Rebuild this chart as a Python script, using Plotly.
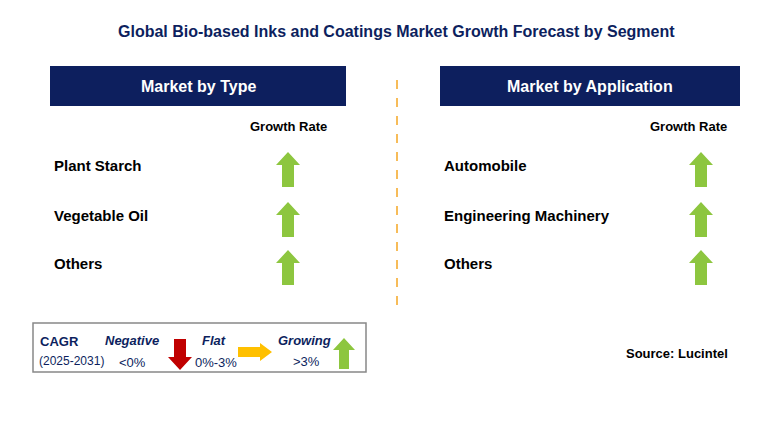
import plotly.graph_objects as go

title = "Global Bio-based Inks and Coatings Market Growth Forecast by Segment"
type_segments = ["Plant Starch", "Vegetable Oil", "Others"]
app_segments = ["Automobile", "Engineering Machinery", "Others"]
type_growth = ["up", "up", "up"]
app_growth = ["up", "up", "up"]
row_y = [165, 215, 263]

NAVY = "#0d1f5e"
GREEN = "#8dc63f"
FONT = "Arial"

fig = go.Figure()
shapes = []
ann = []


def text(x, y, s, size=14, color="black", bold=True, anchor="left", italic=False):
    if bold:
        s = "<b>" + s + "</b>"
    if italic:
        s = "<i>" + s + "</i>"
    ann.append(dict(x=x, y=y, text=s, showarrow=False, xanchor=anchor, yanchor="middle",
                    font=dict(family=FONT, size=size, color=color)))


def arrow_up(cx, top, bottom, color, hw=12, sw=6, hh=13):
    p = (f"M{cx},{top} L{cx+hw},{top+hh} L{cx+sw},{top+hh} L{cx+sw},{bottom} "
         f"L{cx-sw},{bottom} L{cx-sw},{top+hh} L{cx-hw},{top+hh} Z")
    shapes.append(dict(type="path", path=p, fillcolor=color, line=dict(width=0)))


def arrow_down(cx, top, bottom, color, hw=12, sw=6, hh=13):
    p = (f"M{cx},{bottom} L{cx+hw},{bottom-hh} L{cx+sw},{bottom-hh} L{cx+sw},{top} "
         f"L{cx-sw},{top} L{cx-sw},{bottom-hh} L{cx-hw},{bottom-hh} Z")
    shapes.append(dict(type="path", path=p, fillcolor=color, line=dict(width=0)))


def arrow_right(left, right, cy, color, hw=9, sw=5, hl=12):
    p = (f"M{right},{cy} L{right-hl},{cy-hw} L{right-hl},{cy-sw} L{left},{cy-sw} "
         f"L{left},{cy+sw} L{right-hl},{cy+sw} L{right-hl},{cy+hw} Z")
    shapes.append(dict(type="path", path=p, fillcolor=color, line=dict(width=0)))


text(396, 31, title, size=16, color=NAVY, anchor="center")

# panels
for x0, x1, head, segs, growth, ax, gx in [
    (50, 346, "Market by Type", type_segments, type_growth, 288, 288),
    (440, 740, "Market by Application", app_segments, app_growth, 701, 688),
]:
    shapes.append(dict(type="rect", x0=x0, x1=x1, y0=66, y1=106, fillcolor=NAVY, line=dict(width=0)))
    text((x0 + x1) / 2, 86, head, size=16, color="white", anchor="center")
    text(gx, 126, "Growth Rate", size=13, anchor="center")
    for s, g, y in zip(segs, growth, row_y):
        text(x0 + 2, y, s, size=15)
        if g == "up":
            arrow_up(ax, y - 13, y + 22, GREEN)

shapes.append(dict(type="line", x0=397, x1=397, y0=80, y1=310,
                   line=dict(color="#f5a623", width=1.5, dash="dash")))

# legend box
shapes.append(dict(type="rect", x0=33, x1=366, y0=323, y1=372, fillcolor="white",
                   line=dict(color="#888888", width=1.5)))
text(38, 341, "CAGR", size=13, color=NAVY)
text(37, 361, "(2025-2031)", size=12, color=NAVY, bold=False)
text(132, 340, "Negative", size=13, color=NAVY, anchor="center", italic=True)
text(132, 362, "&lt;0%", size=13, color=NAVY, bold=False, anchor="center")
arrow_down(180, 339, 370, "#c00000")
text(214, 340, "Flat", size=13, color=NAVY, anchor="center", italic=True)
text(216, 362, "0%-3%", size=13, color=NAVY, bold=False, anchor="center")
arrow_right(238, 272, 352, "#ffc000")
text(304, 340, "Growing", size=13, color=NAVY, anchor="center", italic=True)
text(306, 361, "&gt;3%", size=13, color=NAVY, bold=False, anchor="center")
arrow_up(344, 338, 369, GREEN, hw=11, sw=5, hh=12)

text(677, 353, "Source: Lucintel", size=13, anchor="center")

# offset ranges by 8px to compensate for page body margin
fig.update_layout(
    width=757, height=422, margin=dict(l=0, r=0, t=0, b=0),
    plot_bgcolor="white", paper_bgcolor="white",
    xaxis=dict(range=[8, 765], visible=False, fixedrange=True),
    yaxis=dict(range=[430, 8], visible=False, fixedrange=True),
    shapes=shapes, annotations=ann, showlegend=False,
)
fig.write_html("out.html", config={"displayModeBar": False})
